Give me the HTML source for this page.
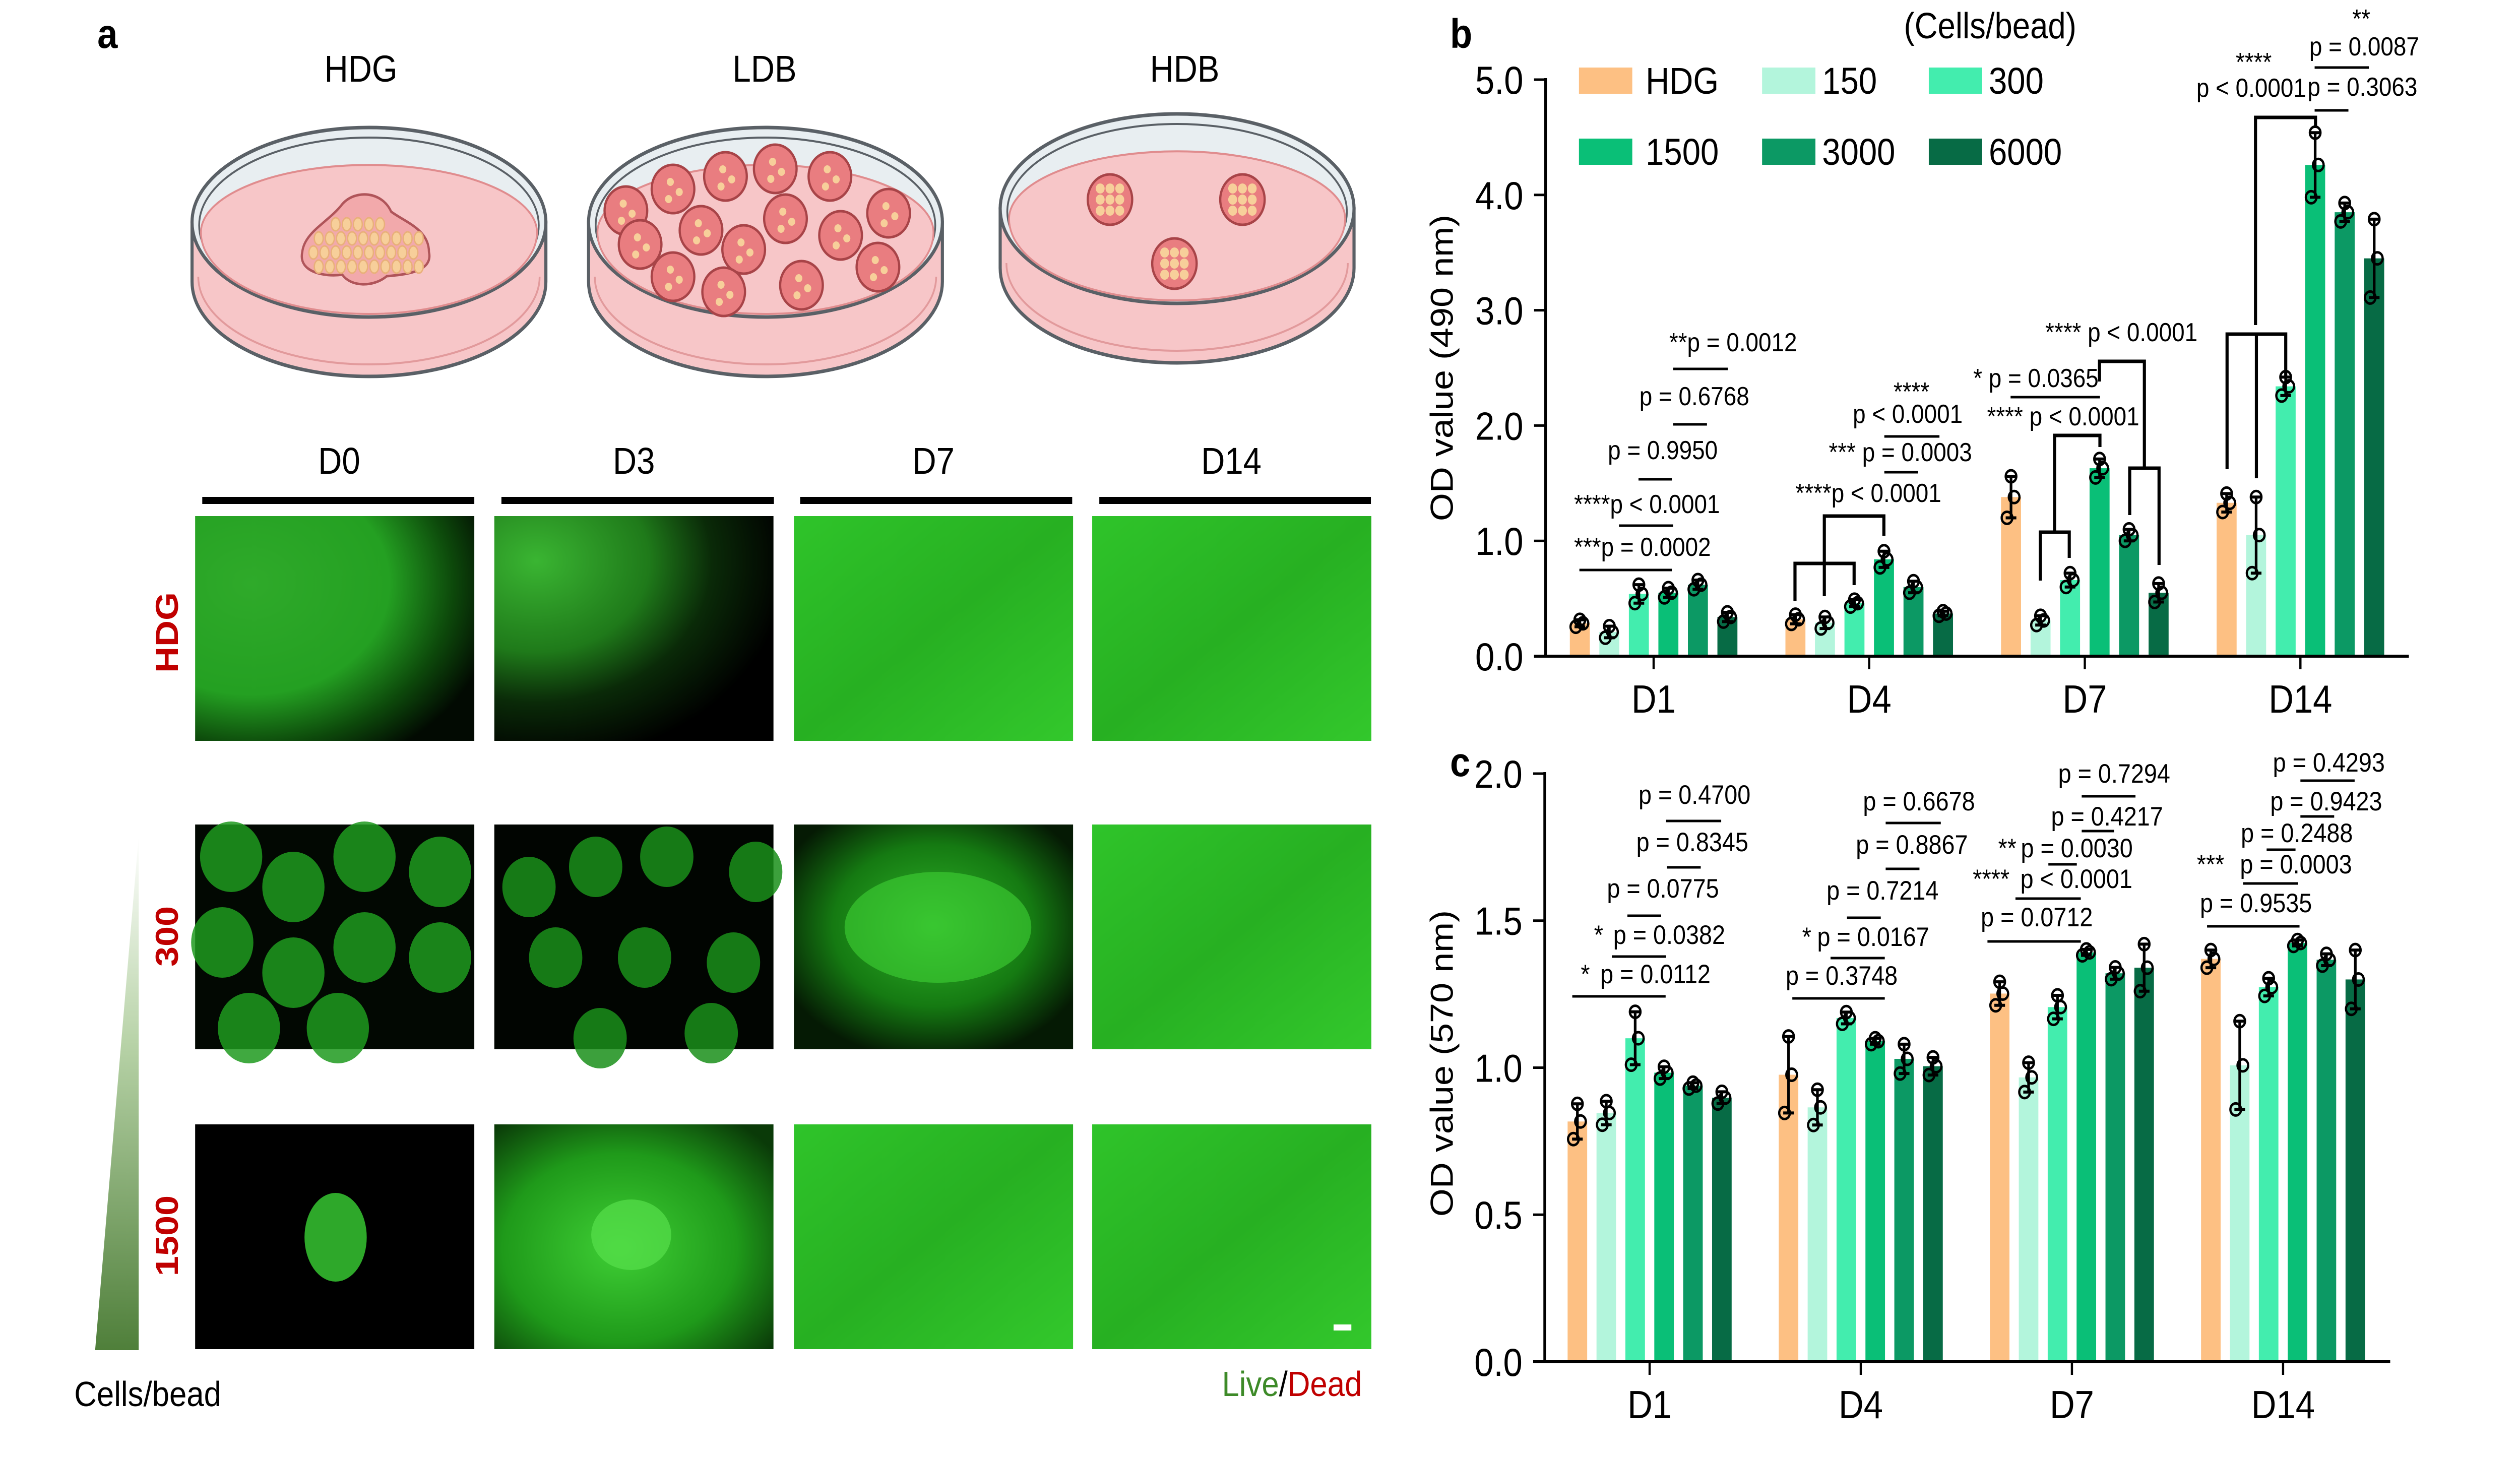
<!DOCTYPE html>
<html><head><meta charset="utf-8"><style>
html,body{margin:0;padding:0;background:#fff;width:100%;height:100%;overflow:hidden;}
svg{display:block;position:absolute;left:0;top:0;width:100vw;height:100vh;font-family:"Liberation Sans",Arial,sans-serif;}
</style></head><body>
<svg id="fig" viewBox="0 0 5669 2891" preserveAspectRatio="none" xmlns="http://www.w3.org/2000/svg" overflow="hidden">
<defs>
<linearGradient id="tri" x1="0" y1="0" x2="0" y2="1"><stop offset="0" stop-color="#ffffff"/><stop offset="0.4" stop-color="#b8d3a8"/><stop offset="1" stop-color="#4f7f3a"/></linearGradient>
<radialGradient id="g-d0" cx="0.2" cy="0.3" r="0.9"><stop offset="0" stop-color="#2faa2a"/><stop offset="0.55" stop-color="#24a022"/><stop offset="0.8" stop-color="#0d4a0b"/><stop offset="1" stop-color="#020a02"/></radialGradient>
<radialGradient id="g-d3" cx="0.15" cy="0.2" r="0.9"><stop offset="0" stop-color="#3ab532"/><stop offset="0.45" stop-color="#1f7a1a"/><stop offset="0.7" stop-color="#0a2a08"/><stop offset="1" stop-color="#000"/></radialGradient>
<linearGradient id="g-green" x1="0" y1="0" x2="1" y2="1"><stop offset="0" stop-color="#2fc42a"/><stop offset="0.5" stop-color="#27b022"/><stop offset="1" stop-color="#33c82c"/></linearGradient>
<radialGradient id="g-net" cx="0.5" cy="0.45" r="0.6"><stop offset="0" stop-color="#30b52a"/><stop offset="0.6" stop-color="#157a12"/><stop offset="1" stop-color="#051a04"/></radialGradient>
<radialGradient id="g-spread" cx="0.45" cy="0.55" r="0.7"><stop offset="0" stop-color="#3fcf35"/><stop offset="0.6" stop-color="#1f9a1a"/><stop offset="1" stop-color="#0a3a08"/></radialGradient>
</defs>

<!-- Panel a -->
<text x="219" y="95" font-size="82" font-weight="bold">a</text>
<g font-size="74" text-anchor="middle">
<text x="812" y="162">HDG</text>
<text x="1720" y="162">LDB</text>
<text x="2665" y="162">HDB</text>
</g>
<g id="dishes"></g>

<g font-size="74" text-anchor="middle">
<text x="763" y="940">D0</text>
<text x="1426" y="940">D3</text>
<text x="2100" y="940">D7</text>
<text x="2770" y="940">D14</text>
</g>
<g fill="#000">
<rect x="455" y="986" width="612" height="14"/><rect x="1128" y="986" width="613" height="14"/><rect x="1800" y="986" width="612" height="14"/><rect x="2473" y="986" width="611" height="14"/>
</g>
<g id="micro"></g>

<g font-size="72" font-weight="bold" fill="#c00000" text-anchor="middle">
<text transform="translate(400,1255) rotate(-90)">HDG</text>
<text transform="translate(400,1858) rotate(-90)">300</text>
<text transform="translate(400,2452) rotate(-90)">1500</text>
</g>
<polygon points="312,1659 312,2679 214,2679" fill="url(#tri)"/>
<text x="167" y="2790" font-size="70">Cells/bead</text>
<text x="3064" y="2770" font-size="70" text-anchor="end"><tspan fill="#3d8a28">Live</tspan><tspan fill="#000">/</tspan><tspan fill="#c00000">Dead</tspan></text>
<rect x="3000" y="2628" width="40" height="12" fill="#fff"/>

<!-- Panel b -->
<text x="3262" y="95" font-size="82" font-weight="bold">b</text>
<text transform="translate(3268,730) rotate(-90)" font-size="72" text-anchor="middle">OD value (490 nm)</text>
<g id="chartB"></g>
<g id="legend"></g>
<text x="4283" y="76" font-size="72">(Cells/bead)</text>

<g font-size="52" stroke-width="5">
<text x="3755" y="697">**p = 0.0012</text><line x1="3764" y1="732" x2="3887" y2="732" stroke="#000"/>
<text x="3688" y="804">p = 0.6768</text><line x1="3764" y1="842" x2="3840" y2="842" stroke="#000"/>
<text x="3617" y="911">p = 0.9950</text><line x1="3686" y1="951" x2="3761" y2="951" stroke="#000"/>
<text x="3541" y="1018">****p &lt; 0.0001</text><line x1="3642" y1="1043" x2="3764" y2="1043" stroke="#000"/>
<text x="3541" y="1103">***p = 0.0002</text><line x1="3553" y1="1131" x2="3761" y2="1131" stroke="#000"/>

<text x="4300" y="795" text-anchor="middle">****</text>
<text x="4168" y="839">p &lt; 0.0001</text><line x1="4239" y1="866" x2="4363" y2="866" stroke="#000"/>
<text x="4114" y="915">***  p = 0.0003</text><line x1="4239" y1="937" x2="4315" y2="937" stroke="#000"/>
<text x="4039" y="996">****p &lt; 0.0001</text>
<path d="M4104,1183 V1024 H4238 V1063 M4038,1192 V1118 H4171 V1161" fill="none" stroke="#000" stroke-width="7"/>

<text x="4439" y="768">* p = 0.0365</text><line x1="4523" y1="788" x2="4724" y2="788" stroke="#000"/>
<text x="4470" y="844">**** p &lt; 0.0001</text>
<text x="4601" y="677">****  p &lt; 0.0001</text>
<path d="M4622,1054 V864 H4724 V887 M4590,1152 V1056 H4655 V1107 M4723,757 V717 H4824 V929 M4791,1022 V929 H4857 V1121" fill="none" stroke="#000" stroke-width="7"/>

<text x="5070" y="141" text-anchor="middle">****</text>
<text x="4941" y="192">p &lt; 0.0001</text>
<path d="M5074,645 V233 H5209 V254 M5010,931 V663 H5142 V748 M5076,663 V949" fill="none" stroke="#000" stroke-width="7"/>
<text x="5312" y="55" text-anchor="middle">**</text>
<text x="5195" y="110">p = 0.0087</text><line x1="5207" y1="134" x2="5329" y2="134" stroke="#000"/>
<text x="5191" y="190">p = 0.3063</text><line x1="5207" y1="219" x2="5283" y2="219" stroke="#000"/>
</g>

<!-- Panel c -->
<text x="3262" y="1540" font-size="82" font-weight="bold">c</text>
<text transform="translate(3268,2110) rotate(-90)" font-size="72" text-anchor="middle">OD value (570 nm)</text>
<g id="chartC"></g>
<g font-size="53" stroke-width="5">
<text x="3686" y="1595">p = 0.4700</text><line x1="3748" y1="1629" x2="3872" y2="1629" stroke="#000"/>
<text x="3681" y="1689">p = 0.8345</text><line x1="3750" y1="1721" x2="3826" y2="1721" stroke="#000"/>
<text x="3615" y="1781">p = 0.0775</text><line x1="3661" y1="1817" x2="3737" y2="1817" stroke="#000"/>
<text x="3586" y="1873">*</text><text x="3629" y="1873">p = 0.0382</text><line x1="3626" y1="1898" x2="3748" y2="1898" stroke="#000"/>
<text x="3556" y="1951">*</text><text x="3600" y="1951">p = 0.0112</text><line x1="3537" y1="1977" x2="3747" y2="1977" stroke="#000"/>

<text x="4191" y="1608">p = 0.6678</text><line x1="4242" y1="1633" x2="4366" y2="1633" stroke="#000"/>
<text x="4175" y="1694">p = 0.8867</text><line x1="4242" y1="1724" x2="4318" y2="1724" stroke="#000"/>
<text x="4109" y="1785">p = 0.7214</text><line x1="4155" y1="1821" x2="4231" y2="1821" stroke="#000"/>
<text x="4054" y="1877">*</text><text x="4088" y="1877">p = 0.0167</text><line x1="4118" y1="1901" x2="4240" y2="1901" stroke="#000"/>
<text x="4017" y="1954">p = 0.3748</text><line x1="4032" y1="1981" x2="4240" y2="1981" stroke="#000"/>

<text x="4630" y="1553">p = 0.7294</text><line x1="4683" y1="1580" x2="4804" y2="1580" stroke="#000"/>
<text x="4614" y="1638">p = 0.4217</text><line x1="4683" y1="1649" x2="4756" y2="1649" stroke="#000"/>
<text x="4495" y="1701">**</text><text x="4546" y="1701">p = 0.0030</text><line x1="4608" y1="1715" x2="4672" y2="1715" stroke="#000"/>
<text x="4438" y="1762">****</text><text x="4545" y="1762">p &lt; 0.0001</text><line x1="4534" y1="1783" x2="4681" y2="1783" stroke="#000"/>
<text x="4456" y="1838">p = 0.0712</text><line x1="4471" y1="1868" x2="4681" y2="1868" stroke="#000"/>

<text x="5113" y="1531">p = 0.4293</text><line x1="5175" y1="1549" x2="5297" y2="1549" stroke="#000"/>
<text x="5107" y="1608">p = 0.9423</text><line x1="5175" y1="1620" x2="5251" y2="1620" stroke="#000"/>
<text x="5041" y="1671">p = 0.2488</text><line x1="5099" y1="1686" x2="5164" y2="1686" stroke="#000"/>
<text x="4942" y="1733">***</text><text x="5039" y="1733">p = 0.0003</text><line x1="5046" y1="1753" x2="5170" y2="1753" stroke="#000"/>
<text x="4949" y="1810">p = 0.9535</text><line x1="4965" y1="1838" x2="5173" y2="1838" stroke="#000"/>
</g>
</svg>
<script>
// ---------- Chart data ----------
const days = ["D1", "D4", "D7", "D14"];
const groups = ["HDG", "150", "300", "1500", "3000", "6000"];
const groupColors = ["#FDC083", "#B3F5DC", "#43EDAE", "#0ABF77", "#0C9964", "#076B45"];

// panel b: OD 490 nm, values per day (HDG,150,300,1500,3000,6000)
const bD1 = [0.285, 0.21, 0.54, 0.55, 0.62, 0.34];
const bD4 = [0.32, 0.29, 0.46, 0.84, 0.60, 0.37];
const bD7 = [1.38, 0.31, 0.66, 1.63, 1.05, 0.55];
const bD14 = [1.33, 1.05, 2.34, 4.26, 3.85, 3.45];
const bErrD1 = [0.03, 0.05, 0.08, 0.04, 0.04, 0.04];
const bErrD4 = [0.04, 0.05, 0.03, 0.07, 0.05, 0.02];
const bErrD7 = [0.18, 0.04, 0.06, 0.08, 0.05, 0.08];
const bErrD14 = [0.08, 0.33, 0.08, 0.28, 0.08, 0.34];
const bTicks = [0, 1, 2, 3, 4, 5];
const bTickLabels = ["0.0", "1.0", "2.0", "3.0", "4.0", "5.0"];

// panel c: OD 570 nm
const cD1 = [0.817, 0.846, 1.10, 0.983, 0.939, 0.898];
const cD4 = [0.976, 0.865, 1.169, 1.09, 1.03, 1.005];
const cD7 = [1.252, 0.967, 1.206, 1.392, 1.321, 1.34];
const cD14 = [1.37, 1.008, 1.274, 1.424, 1.367, 1.30];
const cErrD1 = [0.06, 0.04, 0.09, 0.02, 0.01, 0.02];
const cErrD4 = [0.13, 0.06, 0.02, 0.01, 0.05, 0.03];
const cErrD7 = [0.04, 0.05, 0.04, 0.01, 0.02, 0.08];
const cErrD14 = [0.03, 0.15, 0.03, 0.01, 0.02, 0.10];
const cTicks = [0, 0.5, 1, 1.5, 2];
const cTickLabels = ["0.0", "0.5", "1.0", "1.5", "2.0"];

const NS = "http://www.w3.org/2000/svg";
function mk(tag, attrs, parent) {
  const e = document.createElementNS(NS, tag);
  for (const k in attrs) e.setAttribute(k, attrs[k]);
  if (parent) parent.appendChild(e);
  return e;
}

function drawChart(g, cfg) {
  const yScale = v => cfg.y0 - (v / cfg.ymax) * (cfg.y0 - cfg.yTop);
  const xScale = (d, i) => cfg.tick0 + d * cfg.spacing + (i - 2.5) * cfg.pitch;
  cfg.values.forEach((vals, d) => {
    vals.forEach((v, i) => {
      const cx = xScale(d, i);
      const r = mk("rect", {x: cx - cfg.bw / 2, y: yScale(v), width: cfg.bw, height: cfg.y0 - yScale(v), fill: groupColors[i]}, g);
      
      
      const e = cfg.errs[d][i];
      const eb = mk("path", {d: `M${cx},${yScale(v - e)} V${yScale(v + e)} M${cx - 12},${yScale(v + e)} H${cx + 12} M${cx - 12},${yScale(v - e)} H${cx + 12}`, stroke: "#000", "stroke-width": 6, fill: "none"}, g);
      
      
      [[v - e, -9], [v, 7], [v + e, 0]].forEach(p => {
        const c = mk("circle", {cx: cx + p[1], cy: yScale(p[0]), r: 12, fill: "none", stroke: "#000", "stroke-width": 5}, g);
        
        
      });
    });
  });
  const ya = mk("line", {x1: cfg.ax, y1: cfg.yTop - 3, x2: cfg.ax, y2: cfg.y0, stroke: "#000", "stroke-width": 6}, g);
  
  
  const xa = mk("line", {x1: cfg.ax - 26, y1: cfg.y0, x2: cfg.axEnd, y2: cfg.y0, stroke: "#000", "stroke-width": 6}, g);
  
  
  cfg.ticks.forEach((t, k) => {
    mk("line", {x1: cfg.ax - 26, y1: yScale(t), x2: cfg.ax, y2: yScale(t), stroke: "#000", "stroke-width": 5}, g);
    const tl = mk("text", {x: cfg.ax - 50, y: yScale(t) + 28, "font-size": 78, "text-anchor": "end"}, g);
    tl.textContent = cfg.tickLabels[k];
    
    
  });
  days.forEach((d, k) => {
    const tx = cfg.tick0 + k * cfg.spacing;
    mk("line", {x1: tx, y1: cfg.y0, x2: tx, y2: cfg.y0 + 26, stroke: "#000", "stroke-width": 5}, g);
    const xl = mk("text", {x: tx, y: cfg.y0 + 112, "font-size": 78, "text-anchor": "middle"}, g);
    xl.textContent = d;
    
    
  });
}

drawChart(document.getElementById("chartB"), {
  id: "b", values: [bD1, bD4, bD7, bD14], errs: [bErrD1, bErrD4, bErrD7, bErrD14],
  ticks: bTicks, tickLabels: bTickLabels, ymax: 5,
  y0: 1302, yTop: 158, ax: 3477, axEnd: 5419, tick0: 3720, spacing: 485, pitch: 66.4, bw: 45
});
drawChart(document.getElementById("chartC"), {
  id: "c", values: [cD1, cD4, cD7, cD14], errs: [cErrD1, cErrD4, cErrD7, cErrD14],
  ticks: cTicks, tickLabels: cTickLabels, ymax: 2,
  y0: 2702, yTop: 1535, ax: 3475, axEnd: 5377, tick0: 3711, spacing: 475, pitch: 65, bw: 44
});

// legend
const lg = document.getElementById("legend");
const legX = [3552, 3964, 4339];
const legY = [134, 275];
groups.forEach((name, i) => {
  const col = i % 3, row = Math.floor(i / 3);
  const sw = mk("rect", {x: legX[col], y: legY[row], width: 120, height: 52, fill: groupColors[i]}, lg);
  
  
  const t = mk("text", {x: legX[col] + (col === 0 ? 150 : 135), y: legY[row] + 52, "font-size": 74}, lg);
  t.textContent = name;
  
  
});

// ---------- Petri dishes ----------
const dg = document.getElementById("dishes");
function dish(cx, top, name) {
  const g = mk("g", {}, dg);
  
  
  const rx = 398, ry = 188, cyT = top + ry, cyB = cyT + 118;
  mk("path", {d: `M${cx - rx},${cyT} V${cyB} A${rx},${ry} 0 0 0 ${cx + rx},${cyB} V${cyT} Z`, fill: "#f7c6c8", stroke: "#5a6066", "stroke-width": 7}, g);
  mk("path", {d: `M${cx - rx + 14},${cyB - 10} A${rx - 14},${ry - 14} 0 0 0 ${cx + rx - 14},${cyB - 10}`, fill: "none", stroke: "#e29a9c", "stroke-width": 4}, g);
  mk("ellipse", {cx: cx, cy: cyT, rx: rx, ry: ry, fill: "#e8eef1", stroke: "#5a6066", "stroke-width": 7}, g);
  mk("ellipse", {cx: cx, cy: cyT + 6, rx: rx - 16, ry: ry - 14, fill: "none", stroke: "#5a6066", "stroke-width": 4}, g);
  mk("path", {d: `M${cx - rx + 20},${cyT + 20} A${rx - 22},${ry - 55} 0 0 1 ${cx + rx - 20},${cyT + 20} A${rx - 20},${ry - 26} 0 0 1 ${cx - rx + 20},${cyT + 20} Z`, fill: "#f7c6c8", stroke: "#e08c8e", "stroke-width": 4}, g);
  return g;
}
const g1 = dish(830, 253, "dish-hdg");
mk("path", {d: "M680,500 C685,460 740,440 770,405 C800,375 860,380 880,420 C910,440 965,455 965,500 C975,540 910,545 870,548 C840,570 790,570 770,545 C730,550 670,540 680,500 Z", fill: "#f2a9ab", stroke: "#b0555a", "stroke-width": 5}, g1);
for (let r = 0; r < 4; r++) for (let c = 0; c < 10; c++) {
  const x = 705 + c * 25 + (r % 2) * 12, y = 445 + r * 28;
  if ((r === 0 && (c < 2 || c > 6))) continue;
  mk("ellipse", {cx: x, cy: y, rx: 10, ry: 13, fill: "#f7cf9a", stroke: "#e9b07a", "stroke-width": 3}, g1);
}
const g2 = dish(1722, 253, "dish-ldb");
const ldbBeads = [[1514,375],[1632,350],[1744,335],[1867,350],[1408,418],[1999,423],[1577,457],[1767,434],[1891,467],[1440,485],[1673,495],[1975,530],[1514,549],[1628,579],[1803,566]];
ldbBeads.forEach(b => {
  mk("circle", {cx: b[0], cy: b[1], r: 48, fill: "#e97d80", stroke: "#a84448", "stroke-width": 5}, g2);
  mk("circle", {cx: b[0] - 6, cy: b[1] - 14, r: 8, fill: "#f7cf9a"}, g2);
  mk("circle", {cx: b[0] + 14, cy: b[1] + 6, r: 8, fill: "#f7cf9a"}, g2);
  mk("circle", {cx: b[0] - 10, cy: b[1] + 20, r: 8, fill: "#f7cf9a"}, g2);
});
const g3 = dish(2648, 226, "dish-hdb");
[[2497,396],[2795,396],[2642,523]].forEach(b => {
  mk("circle", {cx: b[0], cy: b[1], r: 50, fill: "#e97d80", stroke: "#a84448", "stroke-width": 5}, g3);
  for (let k = 0; k < 9; k++) mk("circle", {cx: b[0] - 22 + (k % 3) * 22, cy: b[1] - 22 + Math.floor(k / 3) * 22, r: 10, fill: "#f7cf9a"}, g3);
});

// ---------- Microscopy tiles ----------
const mg = document.getElementById("micro");
const colX = [439, 1112, 1786, 2457];
const rowY = [1024, 1636, 2231];
const tw = 628, th = 446;
const tiles = [
  ["url(#g-d0)", "url(#g-d3)", "url(#g-green)", "url(#g-green)"],
  ["#020802", "#010501", "url(#g-net)", "url(#g-green)"],
  ["#000000", "url(#g-spread)", "url(#g-green)", "url(#g-green)"]
];
tiles.forEach((row, r) => row.forEach((fill, c) => {
  const t = mk("rect", {x: colX[c], y: rowY[r], width: tw, height: th, fill: fill}, mg);
  
  
}));
[[520,1700],[660,1760],[820,1700],[990,1730],[500,1870],[660,1930],[820,1880],[990,1900],[560,2040],[760,2040]].forEach(p => {
  mk("circle", {cx: p[0], cy: p[1], r: 70, fill: "#1f9a1f", opacity: 0.85}, mg);
});
[[1190,1760],[1340,1720],[1500,1700],[1700,1730],[1250,1900],[1450,1900],[1650,1910],[1350,2060],[1600,2050]].forEach(p => {
  mk("circle", {cx: p[0], cy: p[1], r: 60, fill: "#1a8f1a", opacity: 0.85}, mg);
});
mk("ellipse", {cx: 2110, cy: 1840, rx: 210, ry: 110, fill: "#3fd236", opacity: 0.6}, mg);
mk("ellipse", {cx: 755, cy: 2455, rx: 70, ry: 88, fill: "#2ea82a"}, mg);
mk("ellipse", {cx: 1420, cy: 2450, rx: 90, ry: 70, fill: "#57e04b", opacity: 0.7}, mg);
</script>
</body></html>
